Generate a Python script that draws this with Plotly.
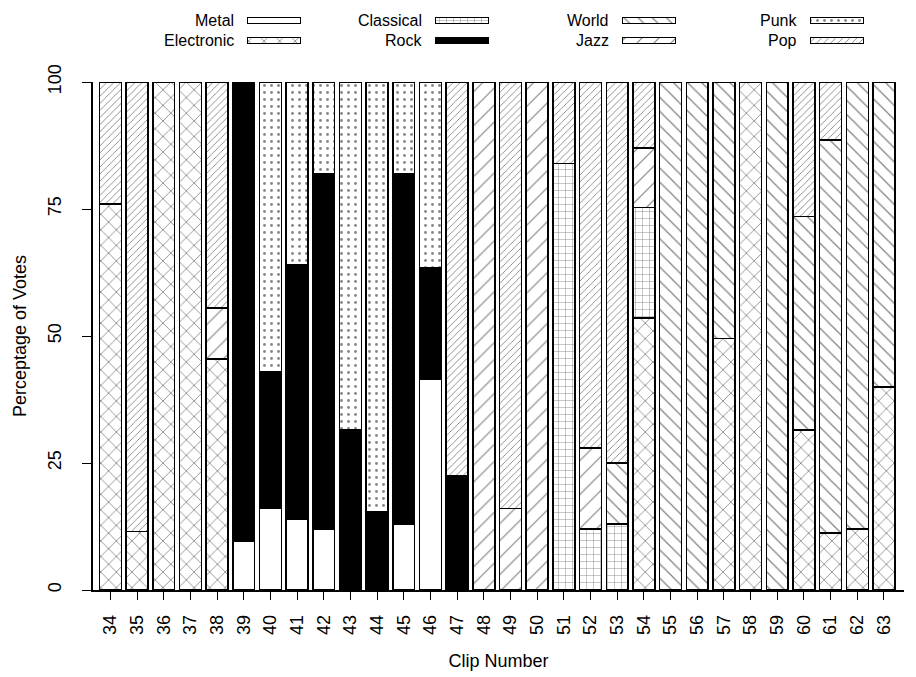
import plotly.graph_objects as go

clips = list(range(34, 64))

genres = ["Metal", "Electronic", "Classical", "Rock", "World", "Jazz", "Punk", "Pop"]

#            34   35   36   37   38    39    40  41  42  43    44    45  46    47    48   49  50  51  52  53  54    55   56   57    58   59   60    61    62  63
metal      = [0,   0,   0,   0,   0,    9.5,  16, 14, 12, 0,    0,    13, 41.5, 0,    0,   0,  0,  0,  0,  0,  0,    0,   0,   0,    0,   0,   0,    0,    0,  0]
electronic = [76,  11.5,100, 100, 45.5, 0,    0,  0,  0,  0,    0,    0,  0,    0,    0,   0,  0,  0,  0,  0,  53.5, 0,   0,   49.5, 100, 0,   31.5, 11.2, 12, 40]
classical  = [0,   0,   0,   0,   0,    0,    0,  0,  0,  0,    0,    0,  0,    0,    0,   0,  0,  84, 12, 13, 21.8, 0,   0,   0,    0,   0,   0,    0,    0,  0]
rock       = [0,   0,   0,   0,   0,    90.5, 27, 50, 70, 31.5, 15.5, 69, 22,   22.5, 0,   0,  0,  0,  0,  0,  0,    0,   0,   0,    0,   0,   0,    0,    0,  0]
world      = [0,   0,   0,   0,   0,    0,    0,  0,  0,  0,    0,    0,  0,    0,    0,   0,  0,  0,  0,  12, 0,    100, 100, 50.5, 0,   100, 42,   77.4, 88, 60]
jazz       = [0,   0,   0,   0,   10,   0,    0,  0,  0,  0,    0,    0,  0,    0,    100, 16, 100,0,  16, 0,  11.7, 0,   0,   0,    0,   0,   0,    0,    0,  0]
punk       = [0,   0,   0,   0,   0,    0,    57, 36, 18, 68.5, 84.5, 18, 36.5, 0,    0,   0,  0,  0,  0,  0,  0,    0,   0,   0,    0,   0,   0,    0,    0,  0]
pop        = [24,  88.5,0,   0,   44.5, 0,    0,  0,  0,  0,    0,    0,  0,    77.5, 0,   84, 0,  16, 72, 75, 13,   0,   0,   0,    0,   0,   26.5, 11.4, 0,  0]

series = [metal, electronic, classical, rock, world, jazz, punk, pop]

styles = {
    "Metal":      dict(color="white", pattern=dict(shape="")),
    "Electronic": dict(color="white", pattern=dict(shape="x", size=11, solidity=0.14, fgcolor="black", fillmode="overlay")),
    "Classical":  dict(color="white", pattern=dict(shape="+", size=7, solidity=0.14, fgcolor="#222", fillmode="overlay")),
    "Rock":       dict(color="black", pattern=dict(shape="")),
    "World":      dict(color="white", pattern=dict(shape="\\", size=10, solidity=0.12, fgcolor="black", fillmode="overlay")),
    "Jazz":       dict(color="white", pattern=dict(shape="/", size=12, solidity=0.09, fgcolor="black", fillmode="overlay")),
    "Punk":       dict(color="white", pattern=dict(shape=".", size=7, solidity=0.14, fgcolor="#111", fillmode="overlay")),
    "Pop":        dict(color="white", pattern=dict(shape="/", size=5, solidity=0.17, fgcolor="black", fillmode="overlay")),
}

FONT = "Liberation Sans, Arial, Helvetica, sans-serif"

fig = go.Figure()
for name, vals in zip(genres, series):
    st = styles[name]
    fig.add_trace(go.Bar(
        x=clips,
        y=[v if v > 0 else None for v in vals],
        name=name,
        width=0.82,
        marker=dict(color=st["color"], pattern=st["pattern"],
                    line=dict(color="black", width=1.5)),
        showlegend=False,
        xaxis="x", yaxis="y",
    ))

# custom legend: label right-aligned, swatch to the right (columns x rows)
col_start = [247, 435, 622, 810]
swatch_w = 53
for i, name in enumerate(genres):
    col = i // 2
    row = i % 2
    st = styles[name]
    fig.add_trace(go.Bar(
        x=[swatch_w], y=[row], base=[col_start[col]], orientation="h",
        width=0.3,
        marker=dict(color=st["color"], pattern=st["pattern"],
                    line=dict(color="black", width=1)),
        showlegend=False, hoverinfo="skip",
        xaxis="x2", yaxis="y2",
    ))
    fig.add_annotation(
        x=col_start[col] - 11, y=row, xref="x2", yref="y2",
        text=name, showarrow=False, xanchor="right", yanchor="middle",
        font=dict(family=FONT, size=16, color="black"),
    )

W, H = 916, 677
ml, mr, mt, mb = 93, 12, 10, 87
ph = H - mt - mb
base_px = H - mb  # pixel row of plot bottom

fig.update_layout(
    width=W, height=H,
    margin=dict(l=ml, r=mr, t=mt, b=mb, autoexpand=False),
    barmode="stack",
    plot_bgcolor="white", paper_bgcolor="white",
    font=dict(family=FONT, size=18, color="black"),
    xaxis=dict(
        domain=[0, 1],
        range=[33.35, 63.75],
        tickmode="array", tickvals=clips, ticktext=[str(c) for c in clips],
        tickangle=-90, ticks="outside", ticklen=8, tickcolor="black",
        ticklabelstandoff=8, automargin=False,
        showline=True, linecolor="black", linewidth=1.5,
        showgrid=False, zeroline=False,
        title=dict(text="Clip Number", standoff=20, font=dict(size=18)),
    ),
    yaxis=dict(
        domain=[0, (base_px - 82) / ph],
        range=[0, 100],
        tickvals=[0, 25, 50, 75, 100],
        tickangle=-90, ticks="outside", ticklen=9, tickcolor="black",
        ticklabelstandoff=14, automargin=False,
        showline=True, linecolor="black", linewidth=1.5,
        showgrid=False, zeroline=False,
        title=dict(text="Perceptage of Votes", standoff=14, font=dict(size=18)),
    ),
    xaxis2=dict(
        domain=[0, 1], range=[ml, W - mr], anchor="y2",
        visible=False, fixedrange=True, automargin=False,
    ),
    yaxis2=dict(
        domain=[(base_px - 50) / ph, (base_px - 10) / ph],
        range=[1.5, -0.5], anchor="x2",
        visible=False, fixedrange=True, automargin=False,
    ),
    bargap=0.18,
)

fig.write_html("out.html")
